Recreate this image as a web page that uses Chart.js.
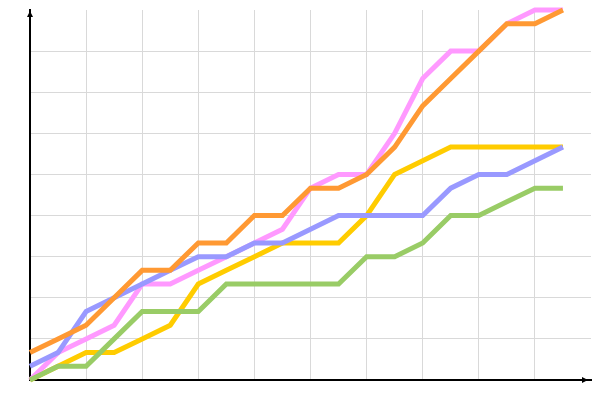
<!DOCTYPE html>
<html>
<head>
<meta charset="utf-8">
<script src="https://cdn.jsdelivr.net/npm/chart.js@4"></script>
<style>
  html, body { margin: 0; padding: 0; background: #fff; }
  #wrap { width: 600px; height: 400px; }
</style>
</head>
<body>
<div id="wrap"><canvas id="chart"></canvas></div>
<script>
// значения, шаг по X — 1, по Y — 1 (сетка через 3)
const steps = [0, 1, 2, 3, 4, 5, 6, 7, 8, 9, 10, 11, 12, 13, 14, 15, 16, 17, 18, 19];
const orangeValues = [2, 3, 4, 6, 8, 8, 10, 10, 12, 12, 14, 14, 15, 17, 20, 22, 24, 26, 26, 27];
const greenValues  = [0, 1, 1, 3, 5, 5, 5, 7, 7, 7, 7, 7, 9, 9, 10, 12, 12, 13, 14, 14];
const blueValues   = [1, 2, 5, 6, 7, 8, 9, 9, 10, 10, 11, 12, 12, 12, 12, 14, 15, 15, 16, 17];
const pinkValues   = [0, 2, 3, 4, 7, 7, 8, 9, 10, 11, 14, 15, 15, 18, 22, 24, 24, 26, 27, 27];
const yellowValues = [0, 1, 2, 2, 3, 4, 7, 8, 9, 10, 10, 10, 12, 15, 16, 17, 17, 17, 17, 17];

const series = [
  { label: 'orange', values: orangeValues, color: '#FF9933' },
  { label: 'green', values: greenValues, color: '#99CC66' },
  { label: 'blue', values: blueValues, color: '#9999FF' },
  { label: 'pink', values: pinkValues, color: '#FF99FF' },
  { label: 'yellow', values: yellowValues, color: '#FFCC00' },
];

// стрелки на концах осей
const axisArrowsPlugin = {
  id: 'axisArrows',
  afterDraw(chart) {
    const { ctx, chartArea } = chart;
    ctx.save();
    ctx.fillStyle = '#000';
    // вверх по Y
    ctx.beginPath();
    ctx.moveTo(chartArea.left, chartArea.top + 1);
    ctx.lineTo(chartArea.left - 3, chartArea.top + 7);
    ctx.lineTo(chartArea.left + 3, chartArea.top + 7);
    ctx.closePath();
    ctx.fill();
    // вправо по X
    ctx.beginPath();
    ctx.moveTo(chartArea.right - 3, chartArea.bottom);
    ctx.lineTo(chartArea.right - 9, chartArea.bottom - 3);
    ctx.lineTo(chartArea.right - 9, chartArea.bottom + 3);
    ctx.closePath();
    ctx.fill();
    ctx.restore();
  },
};

const ctx = document.getElementById('chart').getContext('2d');
new Chart(ctx, {
  type: 'line',
  data: {
    datasets: series.map((s) => ({
      label: s.label,
      data: s.values.map((v, i) => ({ x: steps[i], y: v })),
      borderColor: s.color,
      backgroundColor: s.color,
      borderWidth: 5,
      pointRadius: 0,
      tension: 0,
      clip: false,
      borderJoinStyle: 'miter',
      borderCapStyle: 'butt',
    })),
  },
  options: {
    animation: false,
    responsive: true,
    maintainAspectRatio: false,
    layout: { padding: { left: 30, top: 10, right: 9, bottom: 20 } },
    plugins: {
      legend: { display: false },
      tooltip: { enabled: false },
    },
    scales: {
      x: {
        type: 'linear',
        min: 0,
        max: 20,
        ticks: { display: false, stepSize: 2 },
        grid: {
          drawTicks: false,
          color: (c) => (c.tick && c.tick.value > 0 && c.tick.value < 20 ? '#d9d9d9' : 'rgba(0,0,0,0)'),
          lineWidth: 1,
        },
        border: { display: true, color: '#000', width: 2 },
      },
      y: {
        min: 0,
        max: 27,
        ticks: { display: false, stepSize: 3 },
        grid: {
          drawTicks: false,
          color: (c) => (c.tick && c.tick.value > 0 && c.tick.value < 27 ? '#d9d9d9' : 'rgba(0,0,0,0)'),
          lineWidth: 1,
        },
        border: { display: true, color: '#000', width: 2 },
      },
    },
  },
  plugins: [axisArrowsPlugin],
});
</script>
</body>
</html>
